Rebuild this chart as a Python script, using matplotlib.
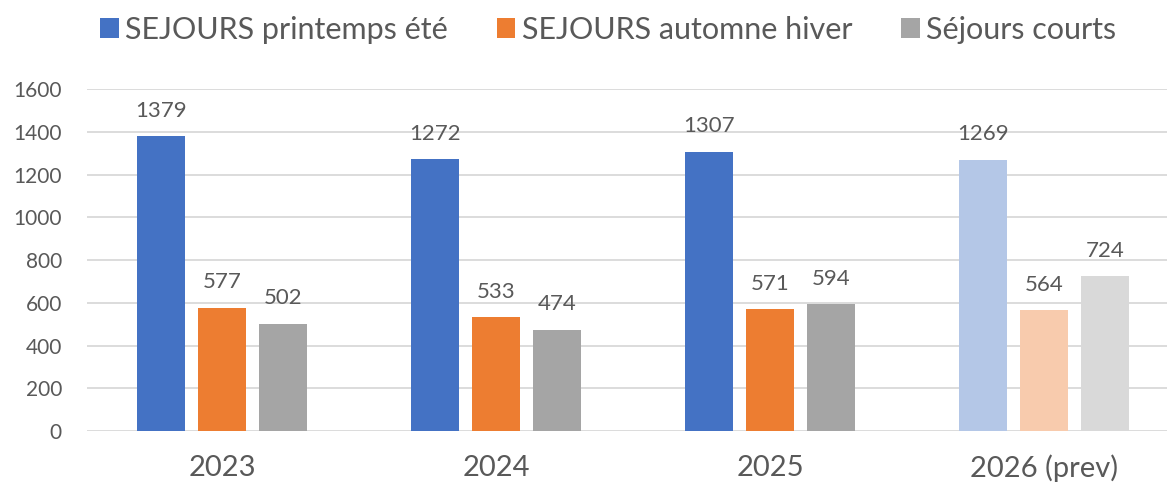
import matplotlib
matplotlib.use("Agg")
import matplotlib.pyplot as plt
from matplotlib.patches import Patch
import numpy as np

categories = ["2023", "2024", "2025", "2026 (prev)"]
series_names = ["SEJOURS printemps été", "SEJOURS automne hiver", "Séjours courts"]
printemps_ete = [1379, 1272, 1307, 1269]
automne_hiver = [577, 533, 571, 564]
sejours_courts = [502, 474, 594, 724]
y_ticks = [0, 200, 400, 600, 800, 1000, 1200, 1400, 1600]

colors_main = ["#4472C4", "#ED7D31", "#A5A5A5"]
colors_prev = ["#B4C7E7", "#F8CBAD", "#D9D9D9"]
text_color = "#595959"
font = ["Lato", "DejaVu Sans"]

W, H = 1167, 488
fig = plt.figure(figsize=(W / 100, H / 100), dpi=100)
left_px, right_px, top_px, bottom_px = 87, 1167, 89, 431
ax = fig.add_axes([left_px / W, (H - bottom_px) / H, (right_px - left_px) / W, (bottom_px - top_px) / H])

x = np.arange(len(categories))
width = 0.175
offsets = [-0.222, 0.0, 0.224]
all_series = [printemps_ete, automne_hiver, sejours_courts]
for s, (vals, off) in enumerate(zip(all_series, offsets)):
    cols = [colors_prev[s] if i == len(categories) - 1 else colors_main[s] for i in range(len(categories))]
    bars = ax.bar(x + off, vals, width, color=cols, zorder=3)
    for b, v in zip(bars, vals):
        ax.annotate(str(v), (b.get_x() + b.get_width() / 2, v), xytext=(0, 11),
                    textcoords="offset points", ha="center", va="bottom",
                    fontsize=16, color=text_color, family=font)

ax.set_ylim(0, 1600)
ax.set_yticks(y_ticks)
ax.set_xlim(-0.493, -0.493 + (right_px - left_px) / 274)
ax.set_xticks(x)
ax.set_xticklabels(categories)
for sp in ax.spines.values():
    sp.set_visible(False)
ax.grid(axis="y", color="#D9D9D9", linewidth=1.3, zorder=0)
ax.tick_params(axis="y", length=0, pad=18, labelsize=15, labelcolor=text_color)
ax.tick_params(axis="x", length=0, pad=17, labelsize=21, labelcolor=text_color)
for lab in ax.get_yticklabels() + ax.get_xticklabels():
    lab.set_family(font)

handles = [Patch(facecolor=c, edgecolor="none") for c in colors_main]
leg = fig.legend(handles, series_names, loc="center", bbox_to_anchor=(608 / W, 1 - 30 / H),
                 ncol=3, frameon=False, handlelength=0.62, handleheight=0.62, handletextpad=0.2,
                 columnspacing=1.6, borderpad=0, prop={"family": font, "size": 22})
for t in leg.get_texts():
    t.set_color(text_color)

fig.savefig("out.png", dpi=100)
